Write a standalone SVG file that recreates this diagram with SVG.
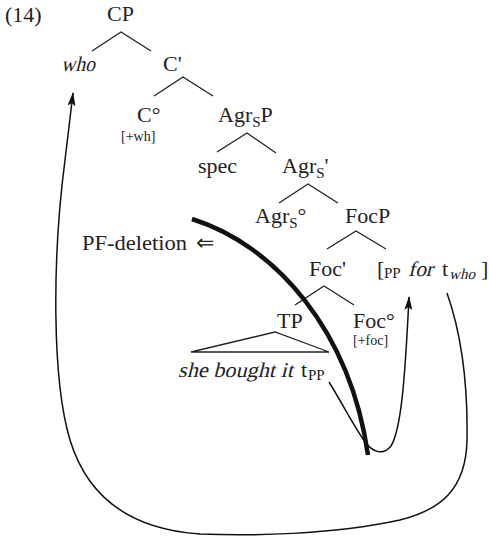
<svg xmlns="http://www.w3.org/2000/svg" width="489" height="538" viewBox="0 0 489 538">
<style>
text{font-family:"Liberation Serif","Times New Roman",serif;font-size:22px;fill:#222}
.i{font-size:21px}
.sm{font-size:14px}
.sub{font-size:15px}
.br{stroke:#222;stroke-width:1.3;fill:none}
.mv{stroke:#111;stroke-width:1.5;fill:none}
</style>
<defs>
<marker id="ah" viewBox="0 0 14 8" refX="13" refY="4" markerWidth="14" markerHeight="8" markerUnits="userSpaceOnUse" orient="auto">
<path d="M0,0 L14,4 L0,8 L3,4 Z" fill="#111"/>
</marker>
</defs>
<text x="5" y="22">(14)</text>
<g id="CP"><text x="107" y="21">CP</text></g>
<g id="who"><text class="i" transform="translate(61,71) skewX(-14)" x="0" y="0" textLength="34" lengthAdjust="spacingAndGlyphs">who</text></g>
<g id="Cbar"><text x="163" y="71">C'</text></g>
<g id="C0"><text x="137" y="122">C°</text><text x="121" y="141" class="sm">[+wh]</text></g>
<g id="AgrSP"><text x="218" y="122">Agr<tspan class="sub" dy="5">S</tspan><tspan dy="-5">P</tspan></text></g>
<g id="spec"><text x="198" y="173">spec</text></g>
<g id="AgrSbar"><text x="282" y="173">Agr<tspan class="sub" dy="5">S</tspan><tspan dy="-5">'</tspan></text></g>
<g id="AgrS0"><text x="255" y="223">Agr<tspan class="sub" dy="5">S</tspan><tspan dy="-5">°</tspan></text></g>
<g id="FocP"><text x="345" y="223">FocP</text></g>
<g id="Focbar"><text x="309" y="276">Foc'</text></g>
<g id="PP">
<text x="377" y="276">[</text>
<text x="384" y="278" class="sub">PP</text>
<text class="i" transform="translate(408,276) skewX(-14)" x="0" y="0" textLength="25" lengthAdjust="spacingAndGlyphs">for</text>
<text x="442" y="276">t</text>
<text class="sub" transform="translate(449,279) skewX(-14)" x="0" y="0" textLength="26" lengthAdjust="spacingAndGlyphs">who</text>
<text x="481" y="276">]</text>
</g>
<g id="TP"><text x="277" y="328">TP</text></g>
<g id="Foc0"><text x="353" y="328">Foc°</text><text x="353" y="345" class="sm">[+foc]</text></g>
<g id="she">
<text class="i" transform="translate(178,377) skewX(-14)" x="0" y="0" textLength="115" lengthAdjust="spacingAndGlyphs">she bought it</text>
<text x="301" y="377">t</text>
<text x="308" y="380" class="sub">PP</text>
</g>
<g id="PF"><text x="82" y="250" textLength="105" lengthAdjust="spacingAndGlyphs">PF-deletion</text><text x="196" y="250">⇐</text></g>
<g id="branches">
<path class="br" d="M92,51 L121,32 L151,51"/>
<path class="br" d="M154,96 L183,77 L213,96"/>
<path class="br" d="M217,152 L247,133 L276,153"/>
<path class="br" d="M279,203 L308,184 L338,203"/>
<path class="br" d="M327,249 L356,231 L386,249"/>
<path class="br" d="M295,305 L324,286 L354,305"/>
<path class="br" d="M191,352 L275,332 L329,352 Z"/>
</g>
<g id="connectors">
<path d="M192,219 C275,245 350,330 368,455" stroke="#111" stroke-width="4.5" fill="none"/>
<path class="mv" marker-end="url(#ah)" d="M329,382 C345,408 356,430 366,443 C373,452 383,456 391,446 C401,430 405,380 409,297"/>
<path class="mv" marker-end="url(#ah)" d="M447,293 C460,330 468,380 467,440 C466,490 440,510 400,520 C330,535 250,536 200,534 C140,530 90,505 70,440 C52,380 52,260 65,160 L73,93"/>
</g>
</svg>
